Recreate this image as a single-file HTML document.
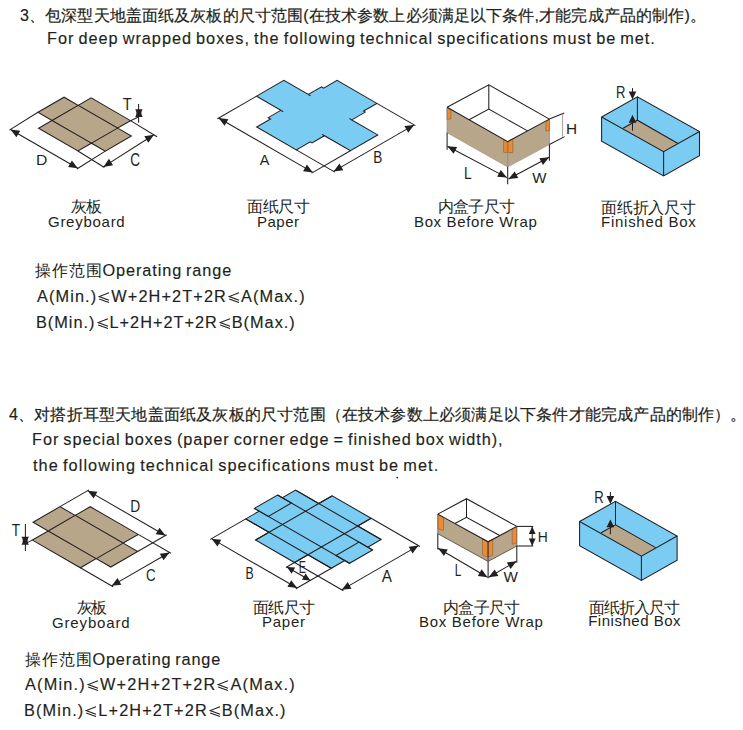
<!DOCTYPE html>
<html><head><meta charset="utf-8">
<style>
html,body{margin:0;padding:0;background:#fff;}
body{width:743px;height:730px;position:relative;overflow:hidden;font-family:"Liberation Sans",sans-serif;color:#231f20;}
.t{position:absolute;white-space:nowrap;line-height:1;transform-origin:0 0;}
.h{font-size:16px;-webkit-text-stroke:0.2px #231f20;}
.e{font-size:16.3px;word-spacing:-1.5px;-webkit-text-stroke:0.15px #231f20;}
.l{font-size:15px;}
.c{font-size:15.6px;-webkit-text-stroke:0;font-weight:300;}
.cj{-webkit-text-stroke:0;}
svg#dg{position:absolute;left:0;top:0;}
.le{display:inline-block;vertical-align:-1px;margin:0 1px;}
</style></head><body>
<div class="t h" id="t1" style="left:20.00px;top:8.00px;letter-spacing:0.133px;">3、包深型天地盖面纸及灰板的尺寸范围(在技术参数上必须满足以下条件,才能完成产品的制作)。</div>
<div class="t e" id="t2" style="left:47.00px;top:30.40px;letter-spacing:0.994px;">For deep wrapped boxes, the following technical specifications must be met.</div>
<div class="t l c" id="t3" style="left:71.00px;top:199.00px;letter-spacing:-1.000px;">灰板</div>
<div class="t l" id="t4" style="left:48.00px;top:214.00px;letter-spacing:0.730px;">Greyboard</div>
<div class="t l c" id="t5" style="left:247.00px;top:199.00px;letter-spacing:-0.325px;">面纸尺寸</div>
<div class="t l" id="t6" style="left:257.00px;top:214.00px;letter-spacing:0.500px;">Paper</div>
<div class="t l c" id="t7" style="left:438.20px;top:199.00px;letter-spacing:-0.850px;">内盒子尺寸</div>
<div class="t l" id="t8" style="left:414.00px;top:214.40px;letter-spacing:0.634px;">Box Before Wrap</div>
<div class="t l c" id="t9" style="left:601.00px;top:199.60px;letter-spacing:-0.200px;">面纸折入尺寸</div>
<div class="t l" id="t10" style="left:601.00px;top:214.20px;letter-spacing:0.741px;">Finished Box</div>
<div class="t e" id="t11" style="left:35.00px;top:262.40px;letter-spacing:0.890px;"><span class="cj">操作范围</span>Operating range</div>
<div class="t e" id="t12" style="left:37.00px;top:287.60px;letter-spacing:1.117px;">A(Min.)<svg class="le" width="12" height="11" viewBox="0 0 12 11"><polyline points="11,0.7 1.2,4.6 11,8.3" fill="none" stroke="#231f20" stroke-width="1.1"/><line x1="1.2" y1="6.9" x2="11" y2="10.5" stroke="#231f20" stroke-width="1.1"/></svg>W+2H+2T+2R<svg class="le" width="12" height="11" viewBox="0 0 12 11"><polyline points="11,0.7 1.2,4.6 11,8.3" fill="none" stroke="#231f20" stroke-width="1.1"/><line x1="1.2" y1="6.9" x2="11" y2="10.5" stroke="#231f20" stroke-width="1.1"/></svg>A(Max.)</div>
<div class="t e" id="t13" style="left:36.00px;top:313.60px;letter-spacing:1.004px;">B(Min.)<svg class="le" width="12" height="11" viewBox="0 0 12 11"><polyline points="11,0.7 1.2,4.6 11,8.3" fill="none" stroke="#231f20" stroke-width="1.1"/><line x1="1.2" y1="6.9" x2="11" y2="10.5" stroke="#231f20" stroke-width="1.1"/></svg>L+2H+2T+2R<svg class="le" width="12" height="11" viewBox="0 0 12 11"><polyline points="11,0.7 1.2,4.6 11,8.3" fill="none" stroke="#231f20" stroke-width="1.1"/><line x1="1.2" y1="6.9" x2="11" y2="10.5" stroke="#231f20" stroke-width="1.1"/></svg>B(Max.)</div>

<div class="t h" id="t14" style="left:9.00px;top:407.00px;letter-spacing:0.191px;">4、对搭折耳型天地盖面纸及灰板的尺寸范围（在技术参数上必须满足以下条件才能完成产品的制作）。</div>
<div class="t e" id="t15" style="left:32.00px;top:431.20px;letter-spacing:0.959px;">For special boxes (paper corner edge = finished box width),</div>
<div class="t e" id="t16" style="left:33.00px;top:457.00px;letter-spacing:1.080px;">the following technical specifications must be met.</div>
<div class="t l c" id="t17" style="left:77.00px;top:599.80px;letter-spacing:-2.000px;">灰板</div>
<div class="t l" id="t18" style="left:52.00px;top:614.80px;letter-spacing:0.855px;">Greyboard</div>
<div class="t l c" id="t19" style="left:253.00px;top:600.00px;letter-spacing:-0.662px;">面纸尺寸</div>
<div class="t l" id="t20" style="left:262.00px;top:614.00px;letter-spacing:0.750px;">Paper</div>
<div class="t l c" id="t21" style="left:443.00px;top:599.80px;letter-spacing:-0.750px;">内盒子尺寸</div>
<div class="t l" id="t22" style="left:419.00px;top:614.20px;letter-spacing:0.714px;">Box Before Wrap</div>
<div class="t l c" id="t23" style="left:589.00px;top:599.60px;letter-spacing:-1.000px;">面纸折入尺寸</div>
<div class="t l" id="t24" style="left:588.20px;top:613.00px;letter-spacing:0.516px;">Finished Box</div>
<div class="t e" id="t25" style="left:25.00px;top:651.00px;letter-spacing:0.840px;"><span class="cj">操作范围</span>Operating range</div>
<div class="t e" id="t26" style="left:25.00px;top:676.40px;letter-spacing:1.206px;">A(Min.)<svg class="le" width="12" height="11" viewBox="0 0 12 11"><polyline points="11,0.7 1.2,4.6 11,8.3" fill="none" stroke="#231f20" stroke-width="1.1"/><line x1="1.2" y1="6.9" x2="11" y2="10.5" stroke="#231f20" stroke-width="1.1"/></svg>W+2H+2T+2R<svg class="le" width="12" height="11" viewBox="0 0 12 11"><polyline points="11,0.7 1.2,4.6 11,8.3" fill="none" stroke="#231f20" stroke-width="1.1"/><line x1="1.2" y1="6.9" x2="11" y2="10.5" stroke="#231f20" stroke-width="1.1"/></svg>A(Max.)</div>
<div class="t e" id="t27" style="left:24.00px;top:702.00px;letter-spacing:1.124px;">B(Min.)<svg class="le" width="12" height="11" viewBox="0 0 12 11"><polyline points="11,0.7 1.2,4.6 11,8.3" fill="none" stroke="#231f20" stroke-width="1.1"/><line x1="1.2" y1="6.9" x2="11" y2="10.5" stroke="#231f20" stroke-width="1.1"/></svg>L+2H+2T+2R<svg class="le" width="12" height="11" viewBox="0 0 12 11"><polyline points="11,0.7 1.2,4.6 11,8.3" fill="none" stroke="#231f20" stroke-width="1.1"/><line x1="1.2" y1="6.9" x2="11" y2="10.5" stroke="#231f20" stroke-width="1.1"/></svg>B(Max.)</div>
<!--SVG--><svg id="dg" width="743" height="730" viewBox="0 0 743 730" style="font-family:'Liberation Sans',sans-serif;fill:#231f20">
<polygon points="37.93,112.30 64.08,97.20 78.20,105.35 91.10,97.90 130.51,120.65 117.60,128.10 131.37,136.05 105.22,151.15 91.45,143.20 77.94,151.00 38.54,128.25 52.05,120.45" fill="#b8a68b" stroke="#231f20" stroke-width="1.05"/>
<polyline points="52.05,120.45 78.20,105.35 117.60,128.10 91.45,143.20 52.05,120.45" fill="none" stroke="#231f20" stroke-width="1.05"/>
<line x1="37.93" y1="112.30" x2="9.40" y2="130.10" stroke="#231f20" stroke-width="1.05"/>
<line x1="105.22" y1="151.15" x2="76.90" y2="169.00" stroke="#231f20" stroke-width="1.05"/>
<line x1="10.50" y1="129.50" x2="77.80" y2="168.20" stroke="#231f20" stroke-width="1.05"/>
<polygon points="10.50,129.50 20.20,130.69 16.41,137.28" fill="#231f20"/>
<polygon points="77.80,168.20 68.10,167.01 71.89,160.42" fill="#231f20"/>
<line x1="77.94" y1="151.00" x2="104.40" y2="167.50" stroke="#231f20" stroke-width="1.05"/>
<line x1="130.51" y1="120.65" x2="157.00" y2="136.70" stroke="#231f20" stroke-width="1.05"/>
<line x1="103.40" y1="166.90" x2="153.90" y2="134.70" stroke="#231f20" stroke-width="1.05"/>
<polygon points="103.40,166.90 108.95,158.86 113.03,165.27" fill="#231f20"/>
<polygon points="153.90,134.70 148.35,142.74 144.27,136.33" fill="#231f20"/>
<line x1="130.51" y1="120.65" x2="137.90" y2="117.20" stroke="#231f20" stroke-width="1.05"/>
<line x1="138.60" y1="104.00" x2="138.60" y2="122.70" stroke="#231f20" stroke-width="1.05"/>
<path d="M135.20,109.20 L142.60,109.20 Q140.10,113.05 142.60,116.90 L135.20,116.90 Q137.70,113.05 135.20,109.20 Z" fill="#231f20"/>
<polygon points="256.60,96.15 283.87,80.40 308.30,94.50 321.55,86.85 323.71,88.10 337.05,80.40 376.88,103.40 363.55,111.10 365.28,112.10 351.77,119.90 377.75,134.90 350.38,150.70 324.40,135.70 312.02,142.85 310.29,141.85 296.35,149.90 256.68,127.00 270.54,119.00 268.20,117.65 280.84,110.35" fill="#7bccf2" stroke="#231f20" stroke-width="1.05"/>
<line x1="308.30" y1="94.50" x2="310.63" y2="95.85" stroke="#231f20" stroke-width="1.05"/>
<line x1="280.84" y1="110.35" x2="283.18" y2="111.70" stroke="#231f20" stroke-width="1.05"/>
<line x1="324.40" y1="135.70" x2="322.07" y2="134.35" stroke="#231f20" stroke-width="1.05"/>
<line x1="351.77" y1="119.90" x2="349.43" y2="118.55" stroke="#231f20" stroke-width="1.05"/>
<line x1="256.60" y1="96.15" x2="217.45" y2="118.75" stroke="#231f20" stroke-width="1.05"/>
<line x1="350.38" y1="150.70" x2="311.59" y2="173.10" stroke="#231f20" stroke-width="1.05"/>
<line x1="218.66" y1="118.05" x2="312.80" y2="172.40" stroke="#231f20" stroke-width="1.05"/>
<polygon points="218.66,118.05 228.36,119.26 224.56,125.84" fill="#231f20"/>
<polygon points="312.80,172.40 303.10,171.19 306.91,164.61" fill="#231f20"/>
<line x1="296.35" y1="149.90" x2="334.88" y2="172.15" stroke="#231f20" stroke-width="1.05"/>
<line x1="376.88" y1="103.40" x2="415.42" y2="125.65" stroke="#231f20" stroke-width="1.05"/>
<line x1="333.58" y1="171.40" x2="414.12" y2="124.90" stroke="#231f20" stroke-width="1.05"/>
<polygon points="333.58,171.40 339.48,163.61 343.28,170.19" fill="#231f20"/>
<polygon points="414.12,124.90 408.23,132.69 404.43,126.11" fill="#231f20"/>
<polygon points="447.10,107.30 507.70,141.60 507.70,167.00 447.10,132.70" fill="#b8a68b"/>
<polygon points="507.70,141.60 549.40,119.10 549.40,144.50 507.70,167.00" fill="#b8a68b"/>
<line x1="447.10" y1="107.30" x2="447.10" y2="132.70" stroke="#8f8576" stroke-width="0.80"/>
<line x1="549.40" y1="119.10" x2="549.40" y2="144.50" stroke="#8f8576" stroke-width="0.80"/>
<line x1="447.10" y1="132.70" x2="507.70" y2="167.00" stroke="#a89c8a" stroke-width="0.80"/>
<line x1="507.70" y1="167.00" x2="549.40" y2="144.50" stroke="#a89c8a" stroke-width="0.80"/>
<polygon points="447.10,107.60 450.90,109.80 450.90,118.80 447.10,119.40" fill="#ef8a2e" stroke="#6b5640" stroke-width="0.50"/>
<polygon points="503.60,139.30 507.30,141.40 507.30,152.60 503.60,152.20" fill="#ef8a2e" stroke="#6b5640" stroke-width="0.50"/>
<polygon points="508.10,141.40 512.90,138.80 512.90,152.40 508.10,152.90" fill="#ef8a2e" stroke="#6b5640" stroke-width="0.50"/>
<polygon points="545.90,121.30 549.40,119.30 549.40,130.60 545.90,131.20" fill="#ef8a2e" stroke="#6b5640" stroke-width="0.50"/>
<line x1="507.70" y1="141.60" x2="507.70" y2="167.00" stroke="#8f8576" stroke-width="0.90"/>
<polyline points="447.10,107.30 488.80,84.80 549.40,119.10" fill="none" stroke="#231f20" stroke-width="1.05"/>
<polyline points="447.10,107.30 507.70,141.60 549.40,119.10" fill="none" stroke="#231f20" stroke-width="1.05"/>
<line x1="488.80" y1="84.80" x2="488.80" y2="109.00" stroke="#231f20" stroke-width="1.05"/>
<polyline points="468.99,119.69 488.80,109.00 527.51,130.91" fill="none" stroke="#231f20" stroke-width="1.05"/>
<line x1="447.10" y1="132.70" x2="447.10" y2="149.80" stroke="#231f20" stroke-width="1.05"/>
<line x1="507.70" y1="167.00" x2="507.70" y2="184.30" stroke="#231f20" stroke-width="1.05"/>
<line x1="549.40" y1="144.50" x2="549.40" y2="160.70" stroke="#231f20" stroke-width="1.05"/>
<line x1="447.40" y1="146.20" x2="506.90" y2="177.60" stroke="#231f20" stroke-width="1.05"/>
<polygon points="447.40,146.20 457.13,147.04 453.59,153.76" fill="#231f20"/>
<polygon points="506.90,177.60 497.17,176.76 500.71,170.04" fill="#231f20"/>
<line x1="508.50" y1="179.00" x2="549.10" y2="157.30" stroke="#231f20" stroke-width="1.05"/>
<polygon points="508.50,179.00 514.65,171.41 518.23,178.11" fill="#231f20"/>
<polygon points="549.10,157.30 542.95,164.89 539.37,158.19" fill="#231f20"/>
<line x1="549.40" y1="119.10" x2="564.20" y2="112.90" stroke="#231f20" stroke-width="1.05"/>
<line x1="549.40" y1="144.50" x2="564.60" y2="136.60" stroke="#231f20" stroke-width="1.05"/>
<line x1="562.60" y1="113.30" x2="562.60" y2="136.60" stroke="#8f8576" stroke-width="0.80"/>
<polygon points="601.60,117.00 637.40,96.80 699.50,131.50 699.50,155.80 663.60,176.00 601.60,141.30" fill="#7bccf2" stroke="#231f20" stroke-width="1.05"/>
<polygon points="623.10,128.30 637.40,120.20 678.00,143.50 663.60,151.70" fill="#b8a68b"/>
<polyline points="623.10,128.30 637.40,120.20 678.00,143.50" fill="none" stroke="#231f20" stroke-width="1.05"/>
<line x1="637.40" y1="96.80" x2="637.40" y2="120.20" stroke="#231f20" stroke-width="1.05"/>
<polyline points="601.60,117.00 663.60,151.70 699.50,131.50" fill="none" stroke="#231f20" stroke-width="1.05"/>
<line x1="663.60" y1="151.70" x2="663.60" y2="176.00" stroke="#231f20" stroke-width="1.05"/>
<line x1="632.50" y1="88.10" x2="632.50" y2="93.00" stroke="#231f20" stroke-width="1.05"/>
<polygon points="632.50,99.50 628.70,91.60 636.30,91.60" fill="#231f20"/>
<line x1="632.50" y1="130.70" x2="632.50" y2="121.00" stroke="#231f20" stroke-width="1.05"/>
<polygon points="632.50,114.80 636.30,122.70 628.70,122.70" fill="#231f20"/>
<polygon points="33.08,522.20 60.01,506.65 75.17,515.40 90.24,506.70 138.21,534.40 123.15,543.10 137.69,551.50 110.76,567.05 96.21,558.65 80.36,567.80 32.39,540.10 48.24,530.95" fill="#b8a68b" stroke="#231f20" stroke-width="1.05"/>
<polyline points="48.24,530.95 75.17,515.40 123.15,543.10 96.21,558.65 48.24,530.95" fill="none" stroke="#231f20" stroke-width="1.05"/>
<line x1="60.01" y1="506.65" x2="89.02" y2="489.90" stroke="#231f20" stroke-width="1.05"/>
<line x1="137.69" y1="551.50" x2="166.71" y2="534.75" stroke="#231f20" stroke-width="1.05"/>
<line x1="87.73" y1="490.65" x2="165.41" y2="535.50" stroke="#231f20" stroke-width="1.05"/>
<polygon points="87.73,490.65 97.42,491.86 93.62,498.44" fill="#231f20"/>
<polygon points="165.41,535.50 155.71,534.29 159.51,527.71" fill="#231f20"/>
<line x1="80.36" y1="567.80" x2="113.10" y2="586.70" stroke="#231f20" stroke-width="1.05"/>
<line x1="138.21" y1="534.40" x2="170.95" y2="553.30" stroke="#231f20" stroke-width="1.05"/>
<line x1="111.63" y1="585.85" x2="169.48" y2="552.45" stroke="#231f20" stroke-width="1.05"/>
<polygon points="111.63,585.85 117.52,578.06 121.32,584.64" fill="#231f20"/>
<polygon points="169.48,552.45 163.58,560.24 159.78,553.66" fill="#231f20"/>
<line x1="32.39" y1="540.10" x2="25.40" y2="543.40" stroke="#231f20" stroke-width="1.05"/>
<line x1="25.40" y1="524.10" x2="25.40" y2="551.00" stroke="#231f20" stroke-width="1.05"/>
<path d="M21.50,536.80 L28.90,536.80 Q26.40,540.80 28.90,544.80 L21.50,544.80 Q24.00,540.80 21.50,536.80 Z" fill="#231f20"/>
<polygon points="245.77,518.90 295.57,490.15 318.77,503.55 332.20,495.80 371.17,518.30 357.74,526.05 381.13,539.55 331.33,568.30 307.95,554.80 294.53,562.55 255.56,540.05 268.98,532.30" fill="#7bccf2" stroke="#231f20" stroke-width="1.05"/>
<polygon points="277.55,495.05 291.41,503.05 268.29,516.40 254.43,508.40" fill="#7bccf2" stroke="#231f20" stroke-width="1.05"/>
<polygon points="359.04,542.10 372.64,549.95 349.52,563.30 335.92,555.45" fill="#7bccf2" stroke="#231f20" stroke-width="1.05"/>
<line x1="277.55" y1="495.05" x2="372.64" y2="549.95" stroke="#231f20" stroke-width="1.05"/>
<line x1="254.43" y1="508.40" x2="349.52" y2="563.30" stroke="#231f20" stroke-width="1.05"/>
<line x1="332.20" y1="495.80" x2="255.56" y2="540.05" stroke="#231f20" stroke-width="1.05"/>
<line x1="371.17" y1="518.30" x2="294.53" y2="562.55" stroke="#231f20" stroke-width="1.05"/>
<line x1="295.57" y1="490.15" x2="381.13" y2="539.55" stroke="#231f20" stroke-width="1.05"/>
<line x1="245.77" y1="518.90" x2="331.33" y2="568.30" stroke="#231f20" stroke-width="1.05"/>
<line x1="245.77" y1="518.90" x2="210.26" y2="539.40" stroke="#231f20" stroke-width="1.05"/>
<line x1="331.33" y1="568.30" x2="295.83" y2="588.80" stroke="#231f20" stroke-width="1.05"/>
<line x1="211.56" y1="538.65" x2="297.12" y2="588.05" stroke="#231f20" stroke-width="1.05"/>
<polygon points="211.56,538.65 221.26,539.86 217.46,546.44" fill="#231f20"/>
<polygon points="297.12,588.05 287.43,586.84 291.23,580.26" fill="#231f20"/>
<line x1="371.17" y1="518.30" x2="420.01" y2="546.50" stroke="#231f20" stroke-width="1.05"/>
<line x1="294.53" y1="562.55" x2="343.37" y2="590.75" stroke="#231f20" stroke-width="1.05"/>
<line x1="341.81" y1="589.85" x2="418.45" y2="545.60" stroke="#231f20" stroke-width="1.05"/>
<polygon points="341.81,589.85 347.70,582.06 351.50,588.64" fill="#231f20"/>
<polygon points="418.45,545.60 412.56,553.39 408.76,546.81" fill="#231f20"/>
<line x1="294.53" y1="562.55" x2="285.87" y2="567.55" stroke="#231f20" stroke-width="1.05"/>
<line x1="286.91" y1="566.95" x2="310.29" y2="580.45" stroke="#231f20" stroke-width="1.05"/>
<polygon points="286.91,566.95 295.20,567.58 291.60,573.82" fill="#231f20"/>
<polygon points="310.29,580.45 301.99,579.82 305.59,573.58" fill="#231f20"/>
<polygon points="437.80,514.10 488.10,541.80 488.10,561.40 437.80,533.70" fill="#b8a68b"/>
<polygon points="488.10,541.80 516.80,526.40 516.80,546.00 488.10,561.40" fill="#b8a68b"/>
<line x1="437.80" y1="514.10" x2="437.80" y2="533.70" stroke="#5d5348" stroke-width="0.80"/>
<line x1="516.80" y1="526.40" x2="516.80" y2="546.00" stroke="#5d5348" stroke-width="0.80"/>
<line x1="437.80" y1="533.70" x2="488.10" y2="561.40" stroke="#4a4036" stroke-width="0.80"/>
<line x1="488.10" y1="561.40" x2="516.80" y2="546.00" stroke="#4a4036" stroke-width="0.80"/>
<polygon points="438.20,514.50 443.50,517.40 443.50,530.50 438.20,529.00" fill="#ef8a2e" stroke="#6b5640" stroke-width="0.50"/>
<polygon points="482.50,538.60 487.60,541.40 487.60,557.20 482.50,555.00" fill="#ef8a2e" stroke="#6b5640" stroke-width="0.50"/>
<polygon points="488.60,541.40 492.80,539.20 492.80,555.00 488.60,557.20" fill="#ef8a2e" stroke="#6b5640" stroke-width="0.50"/>
<polygon points="512.20,528.90 516.60,526.60 516.60,542.60 512.20,544.40" fill="#ef8a2e" stroke="#6b5640" stroke-width="0.50"/>
<line x1="488.10" y1="541.80" x2="488.10" y2="561.40" stroke="#3a3029" stroke-width="0.90"/>
<polyline points="437.80,514.10 466.50,498.70 516.80,526.40" fill="none" stroke="#231f20" stroke-width="1.05"/>
<polyline points="437.80,514.10 488.10,541.80 516.80,526.40" fill="none" stroke="#231f20" stroke-width="1.05"/>
<line x1="466.50" y1="498.70" x2="466.50" y2="517.30" stroke="#231f20" stroke-width="1.05"/>
<polyline points="454.91,523.52 466.50,517.30 499.69,535.58" fill="none" stroke="#231f20" stroke-width="1.05"/>
<line x1="437.80" y1="533.70" x2="437.80" y2="549.60" stroke="#231f20" stroke-width="1.05"/>
<line x1="488.10" y1="561.40" x2="488.10" y2="578.20" stroke="#231f20" stroke-width="1.05"/>
<line x1="516.80" y1="546.00" x2="516.80" y2="562.80" stroke="#231f20" stroke-width="1.05"/>
<line x1="438.10" y1="548.20" x2="487.50" y2="577.20" stroke="#231f20" stroke-width="1.05"/>
<polygon points="438.10,548.20 447.79,549.48 443.94,556.03" fill="#231f20"/>
<polygon points="487.50,577.20 477.81,575.92 481.66,569.37" fill="#231f20"/>
<line x1="488.70" y1="577.20" x2="516.50" y2="561.30" stroke="#231f20" stroke-width="1.05"/>
<polygon points="488.70,577.20 494.63,569.43 498.40,576.03" fill="#231f20"/>
<polygon points="516.50,561.30 510.57,569.07 506.80,562.47" fill="#231f20"/>
<line x1="516.80" y1="526.40" x2="533.20" y2="526.40" stroke="#231f20" stroke-width="1.05"/>
<line x1="516.80" y1="546.00" x2="533.20" y2="546.00" stroke="#231f20" stroke-width="1.05"/>
<line x1="532.20" y1="526.40" x2="532.20" y2="546.00" stroke="#231f20" stroke-width="1.05"/>
<polygon points="532.20,526.40 535.60,533.90 528.80,533.90" fill="#231f20"/>
<polygon points="532.20,546.00 528.80,538.50 535.60,538.50" fill="#231f20"/>
<polygon points="579.60,521.50 615.50,501.30 677.10,536.00 677.10,560.30 641.40,580.40 579.60,545.80" fill="#7bccf2" stroke="#231f20" stroke-width="1.05"/>
<polygon points="601.10,532.80 615.50,524.90 655.70,547.60 641.40,556.10" fill="#b8a68b"/>
<polyline points="601.10,532.80 615.50,524.90 655.70,547.60" fill="none" stroke="#231f20" stroke-width="1.05"/>
<line x1="615.50" y1="501.30" x2="615.50" y2="524.90" stroke="#231f20" stroke-width="1.05"/>
<polyline points="579.60,521.50 641.40,556.10 677.10,536.00" fill="none" stroke="#231f20" stroke-width="1.05"/>
<line x1="641.40" y1="556.10" x2="641.40" y2="580.40" stroke="#231f20" stroke-width="1.05"/>
<line x1="610.40" y1="492.10" x2="610.40" y2="497.00" stroke="#231f20" stroke-width="1.05"/>
<polygon points="610.40,504.00 606.50,496.10 614.30,496.10" fill="#231f20"/>
<line x1="610.40" y1="534.20" x2="610.40" y2="525.00" stroke="#231f20" stroke-width="1.05"/>
<polygon points="610.40,519.40 614.30,527.30 606.50,527.30" fill="#231f20"/>
<text id="g3D" transform="translate(36.10,164.50) scale(1.026,1)" font-size="15.29">D</text>
<text id="g3C" transform="translate(130.20,166.00) scale(0.778,1)" font-size="17.43">C</text>
<text id="g3T" transform="translate(122.70,110.00) scale(0.943,1)" font-size="15.63">T</text>
<text id="p3A" transform="translate(259.70,164.80) scale(0.976,1)" font-size="14.77">A</text>
<text id="p3B" transform="translate(373.20,163.00) scale(0.822,1)" font-size="16.50">B</text>
<text id="b3H" transform="translate(565.90,133.50) scale(1.019,1)" font-size="15.07">H</text>
<text id="b3L" transform="translate(463.90,179.40) scale(0.809,1)" font-size="17.07">L</text>
<text id="b3W" transform="translate(532.30,182.50) scale(0.969,1)" font-size="15.56">W</text>
<text id="f3R" transform="translate(616.00,98.40) scale(0.818,1)" font-size="15.96">R</text>
<text id="g4T" transform="translate(11.70,536.10) scale(0.860,1)" font-size="15.83">T</text>
<text id="g4D" transform="translate(130.30,511.70) scale(0.863,1)" font-size="15.95">D</text>
<text id="g4C" transform="translate(146.10,581.00) scale(0.778,1)" font-size="17.22">C</text>
<text id="p4B" transform="translate(245.40,579.40) scale(0.761,1)" font-size="16.13">B</text>
<text id="p4A" transform="translate(381.70,582.30) scale(0.959,1)" font-size="15.95">A</text>
<text id="p4E" transform="translate(298.80,572.50) scale(0.628,1)" font-size="17.09">E</text>
<text id="b4H" transform="translate(537.80,542.20) scale(0.912,1)" font-size="15.18">H</text>
<text id="b4L" transform="translate(454.70,576.30) scale(0.743,1)" font-size="15.87">L</text>
<text id="b4W" transform="translate(503.60,581.70) scale(0.990,1)" font-size="15.40">W</text>
<text id="f4R" transform="translate(594.30,502.60) scale(0.767,1)" font-size="17.14">R</text>
<circle cx="397.2" cy="477.6" r="0.9" fill="#231f20"/>
</svg><!--/SVG-->
</body></html>
